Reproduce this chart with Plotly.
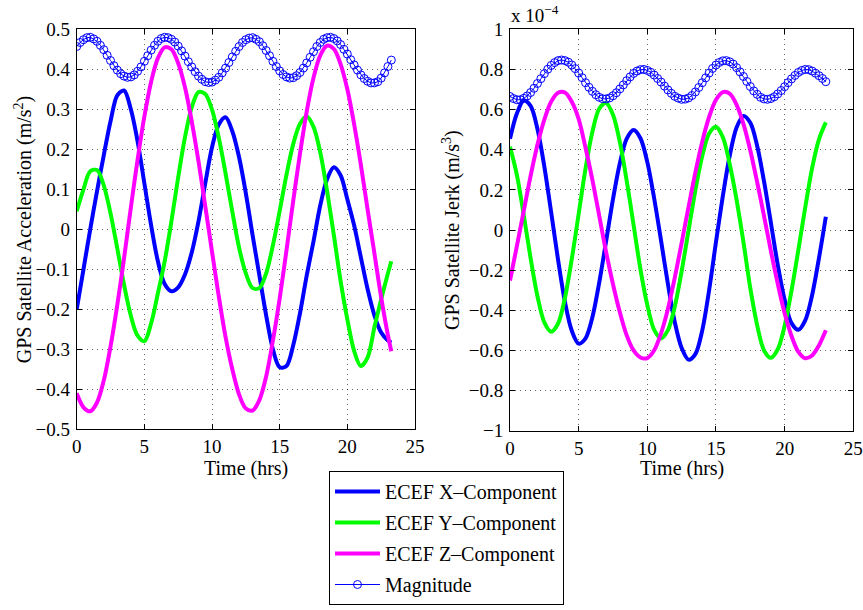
import plotly.graph_objects as go

# ---------------- data ----------------
# Left panel: acceleration components (m/s^2), sampled every 0.5 h
time_acc = [0, 0.5, 1, 1.5, 2, 2.5, 3, 3.5, 4, 4.5, 5, 5.5, 6, 6.5, 7, 7.5, 8, 8.5, 9, 9.5,
            10, 10.5, 11, 11.5, 12, 12.5, 13, 13.5, 14, 14.5, 15, 15.5, 16, 16.5, 17, 17.5,
            18, 18.5, 19, 19.5, 20, 20.5, 21, 21.5, 22, 22.5, 23, 23.25]
acc_x = [-0.20, -0.10, 0.00, 0.095, 0.185, 0.27, 0.335, 0.347, 0.30, 0.22, 0.115, 0.01,
         -0.08, -0.137, -0.155, -0.145, -0.113, -0.058, 0.02, 0.115, 0.205, 0.262, 0.28, 0.245,
         0.18, 0.09, -0.015, -0.115, -0.215, -0.30, -0.345, -0.342, -0.29, -0.21, -0.115, -0.03,
         0.06, 0.125, 0.155, 0.135, 0.075, 0.01, -0.07, -0.15, -0.215, -0.258, -0.278, -0.283]
acc_y = [0.045, 0.10, 0.145, 0.148, 0.11, 0.04, -0.048, -0.139, -0.216, -0.266, -0.28, -0.235,
         -0.16, -0.08, 0.02, 0.13, 0.23, 0.305, 0.343, 0.338, 0.299, 0.229, 0.14, 0.044,
         -0.046, -0.11, -0.147, -0.147, -0.11, -0.04, 0.046, 0.136, 0.213, 0.264, 0.282, 0.256,
         0.192, 0.096, -0.014, -0.129, -0.225, -0.304, -0.342, -0.32, -0.245, -0.175, -0.11, -0.08]
acc_z = [-0.41, -0.445, -0.455, -0.433, -0.378, -0.293, -0.189, -0.072, 0.054, 0.174, 0.282, 0.369,
         0.428, 0.455, 0.450, 0.415, 0.355, 0.27, 0.17, 0.058, -0.056, -0.168, -0.269, -0.35,
         -0.413, -0.448, -0.453, -0.427, -0.368, -0.278, -0.173, -0.053, 0.071, 0.189, 0.295, 0.379,
         0.435, 0.459, 0.451, 0.413, 0.35, 0.263, 0.161, 0.049, -0.06, -0.17, -0.265, -0.305]

# Left panel: acceleration magnitude, sampled every 0.25 h
time_acc_mag = [0, 0.25, 0.5, 0.75, 1, 1.25, 1.5, 1.75, 2, 2.25, 2.5, 2.75, 3, 3.25, 3.5, 3.75,
                4, 4.25, 4.5, 4.75, 5, 5.25, 5.5, 5.75, 6, 6.25, 6.5, 6.75, 7, 7.25, 7.5, 7.75,
                8, 8.25, 8.5, 8.75, 9, 9.25, 9.5, 9.75, 10, 10.25, 10.5, 10.75, 11, 11.25, 11.5, 11.75,
                12, 12.25, 12.5, 12.75, 13, 13.25, 13.5, 13.75, 14, 14.25, 14.5, 14.75, 15, 15.25, 15.5, 15.75,
                16, 16.25, 16.5, 16.75, 17, 17.25, 17.5, 17.75, 18, 18.25, 18.5, 18.75, 19, 19.25, 19.5, 19.75,
                20, 20.25, 20.5, 20.75, 21, 21.25, 21.5, 21.75, 22, 22.25, 22.5, 22.75, 23, 23.25]
acc_mag = [0.457, 0.467, 0.474, 0.479, 0.480, 0.476, 0.470, 0.460, 0.449, 0.435, 0.422, 0.409, 0.398, 0.389, 0.383, 0.380,
           0.381, 0.386, 0.395, 0.406, 0.420, 0.434, 0.448, 0.460, 0.470, 0.477, 0.480, 0.479, 0.475, 0.468, 0.458, 0.446,
           0.433, 0.419, 0.406, 0.394, 0.383, 0.375, 0.369, 0.367, 0.368, 0.373, 0.380, 0.391, 0.403, 0.417, 0.431, 0.445,
           0.457, 0.467, 0.474, 0.478, 0.479, 0.475, 0.469, 0.459, 0.447, 0.434, 0.420, 0.407, 0.396, 0.387, 0.381, 0.378,
           0.379, 0.384, 0.392, 0.403, 0.416, 0.430, 0.444, 0.457, 0.467, 0.475, 0.479, 0.480, 0.477, 0.471, 0.462, 0.450,
           0.438, 0.424, 0.411, 0.398, 0.386, 0.377, 0.370, 0.366, 0.366, 0.369, 0.378, 0.391, 0.407, 0.423]

# Right panel: jerk components (x 1e-4 m/s^3), sampled every 0.5 h
time_jerk = [0, 0.5, 1, 1.5, 2, 2.5, 3, 3.5, 4, 4.5, 5, 5.5, 6, 6.5, 7, 7.5, 8, 8.5, 9, 9.5,
             10, 10.5, 11, 11.5, 12, 12.5, 13, 13.5, 14, 14.5, 15, 15.5, 16, 16.5, 17, 17.5,
             18, 18.5, 19, 19.5, 20, 20.5, 21, 21.5, 22, 22.5, 23]
jerk_x = [0.455, 0.58, 0.645, 0.618, 0.503, 0.316, 0.087, -0.148, -0.358, -0.502, -0.566, -0.540,
          -0.435, -0.261, -0.056, 0.154, 0.333, 0.455, 0.498, 0.457, 0.338, 0.157, -0.053, -0.269,
          -0.459, -0.588, -0.646, -0.618, -0.50, -0.30, -0.06, 0.17, 0.37, 0.511, 0.568, 0.534,
          0.419, 0.242, 0.035, -0.174, -0.348, -0.464, -0.497, -0.45, -0.325, -0.14, 0.066]
jerk_y = [0.415, 0.275, 0.075, -0.14, -0.33, -0.46, -0.507, -0.466, -0.338, -0.144, 0.08, 0.306,
          0.489, 0.605, 0.633, 0.574, 0.438, 0.245, 0.025, -0.196, -0.374, -0.498, -0.54, -0.499,
          -0.382, -0.205, -0.003, 0.199, 0.369, 0.481, 0.515, 0.462, 0.328, 0.15, -0.06, -0.29,
          -0.475, -0.60, -0.637, -0.594, -0.477, -0.302, -0.099, 0.112, 0.308, 0.452, 0.536]
jerk_z = [-0.252, -0.08, 0.095, 0.27, 0.425, 0.55, 0.64, 0.684, 0.685, 0.639, 0.553, 0.41,
          0.25, 0.07, -0.11, -0.27, -0.41, -0.525, -0.60, -0.635, -0.638, -0.599, -0.515, -0.393,
          -0.237, -0.064, 0.114, 0.287, 0.44, 0.563, 0.649, 0.687, 0.679, 0.624, 0.529, 0.396,
          0.238, 0.069, -0.105, -0.268, -0.415, -0.528, -0.607, -0.639, -0.625, -0.575, -0.50]

# Right panel: jerk magnitude, sampled every 0.25 h
time_jerk_mag = [0, 0.25, 0.5, 0.75, 1, 1.25, 1.5, 1.75, 2, 2.25, 2.5, 2.75, 3, 3.25, 3.5, 3.75,
                 4, 4.25, 4.5, 4.75, 5, 5.25, 5.5, 5.75, 6, 6.25, 6.5, 6.75, 7, 7.25, 7.5, 7.75,
                 8, 8.25, 8.5, 8.75, 9, 9.25, 9.5, 9.75, 10, 10.25, 10.5, 10.75, 11, 11.25, 11.5, 11.75,
                 12, 12.25, 12.5, 12.75, 13, 13.25, 13.5, 13.75, 14, 14.25, 14.5, 14.75, 15, 15.25, 15.5, 15.75,
                 16, 16.25, 16.5, 16.75, 17, 17.25, 17.5, 17.75, 18, 18.25, 18.5, 18.75, 19, 19.25, 19.5, 19.75,
                 20, 20.25, 20.5, 20.75, 21, 21.25, 21.5, 21.75, 22, 22.25, 22.5, 22.75, 23]
jerk_mag = [0.665, 0.655, 0.649, 0.649, 0.656, 0.668, 0.685, 0.706, 0.730, 0.754, 0.779, 0.801, 0.820, 0.834, 0.844, 0.847,
            0.844, 0.836, 0.822, 0.804, 0.782, 0.759, 0.734, 0.711, 0.691, 0.674, 0.661, 0.654, 0.653, 0.658, 0.669, 0.684,
            0.703, 0.723, 0.744, 0.763, 0.780, 0.792, 0.799, 0.800, 0.795, 0.786, 0.772, 0.755, 0.737, 0.717, 0.698, 0.681,
            0.666, 0.657, 0.651, 0.652, 0.658, 0.670, 0.688, 0.710, 0.734, 0.758, 0.782, 0.805, 0.822, 0.835, 0.843, 0.844,
            0.838, 0.827, 0.809, 0.788, 0.765, 0.740, 0.715, 0.693, 0.676, 0.661, 0.653, 0.651, 0.655, 0.664, 0.678, 0.695,
            0.714, 0.734, 0.753, 0.770, 0.785, 0.795, 0.800, 0.799, 0.792, 0.781, 0.769, 0.755, 0.739]

series_names = ["ECEF X\u2013Component", "ECEF Y\u2013Component", "ECEF Z\u2013Component", "Magnitude"]
series_colors = ["#0000FF", "#00FF00", "#FF00FF", "#0000FF"]

x_ticks = [0, 5, 10, 15, 20, 25]

# ---------------- figure ----------------
FONT = "Liberation Serif, Times New Roman, serif"
fig = go.Figure()

left_comp = [acc_x, acc_y, acc_z]
right_comp = [jerk_x, jerk_y, jerk_z]

for i in range(3):
    fig.add_trace(go.Scatter(
        x=time_acc, y=left_comp[i], mode="lines", name=series_names[i],
        line=dict(color=series_colors[i], width=4, shape="spline", smoothing=0.9),
        xaxis="x", yaxis="y", showlegend=True, legendgroup=str(i)))
fig.add_trace(go.Scatter(
    x=time_acc_mag, y=acc_mag, mode="lines+markers", name=series_names[3],
    line=dict(color=series_colors[3], width=1),
    marker=dict(symbol="circle-open", size=8, color=series_colors[3], line=dict(width=1)),
    xaxis="x", yaxis="y", showlegend=True, legendgroup="3"))

for i in range(3):
    fig.add_trace(go.Scatter(
        x=time_jerk, y=right_comp[i], mode="lines", name=series_names[i],
        line=dict(color=series_colors[i], width=4, shape="spline", smoothing=0.9),
        xaxis="x2", yaxis="y2", showlegend=False))
fig.add_trace(go.Scatter(
    x=time_jerk_mag, y=jerk_mag, mode="lines+markers", name=series_names[3],
    line=dict(color=series_colors[3], width=1),
    marker=dict(symbol="circle-open", size=8, color=series_colors[3], line=dict(width=1)),
    xaxis="x2", yaxis="y2", showlegend=False))

W, H = 863, 610

def px_x(p):
    return p / W

def px_y(p):
    return 1 - p / H

axis_common = dict(
    showline=True, linecolor="black", linewidth=1, mirror="allticks",
    ticks="inside", ticklen=5, tickcolor="black", tickwidth=1,
    showgrid=True, gridcolor="rgba(0,0,0,0.6)", griddash="1px,4px", gridwidth=1,
    zeroline=False, automargin=False,
    tickfont=dict(family=FONT, size=19, color="black"),
)

fig.update_layout(
    width=W, height=H,
    margin=dict(l=0, r=0, t=0, b=0, autoexpand=False),
    paper_bgcolor="white", plot_bgcolor="white",
    font=dict(family=FONT, size=19, color="black"),
    xaxis=dict(domain=[px_x(76.7), px_x(415)], range=[0, 25], tickvals=x_ticks,
               anchor="y", **axis_common),
    yaxis=dict(domain=[px_y(429.3), px_y(29.3)], range=[-0.5, 0.5], dtick=0.1, tick0=0,
               anchor="x", ticklabelstandoff=2, **axis_common),
    xaxis2=dict(domain=[px_x(510), px_x(853.3)], range=[0, 25], tickvals=x_ticks,
                anchor="y2", **axis_common),
    yaxis2=dict(domain=[px_y(430.7), px_y(29.3)], range=[-1, 1], dtick=0.2, tick0=0,
                anchor="x2", ticklabelstandoff=2, **axis_common),
    legend=dict(
        x=px_x(329), y=px_y(471), xanchor="left", yanchor="top",
        bgcolor="white", bordercolor="black", borderwidth=1,
        font=dict(family=FONT, size=20, color="black"),
        tracegroupgap=2, itemwidth=45,
    ),
    showlegend=True,
)

annotations = [
    dict(text="GPS Satellite Acceleration (m/s<sup>2</sup>)", x=px_x(23), y=px_y(229.3),
         textangle=-90),
    dict(text="GPS Satellite Jerk (m/s<sup>3</sup>)", x=px_x(452), y=px_y(230),
         textangle=-90),
    dict(text="Time (hrs)", x=px_x(245.8), y=px_y(468)),
    dict(text="Time (hrs)", x=px_x(681.7), y=px_y(468)),
]
for a in annotations:
    a.update(xref="paper", yref="paper", showarrow=False, xanchor="center", yanchor="middle",
             font=dict(family=FONT, size=20, color="black"))
fig.add_annotation(text="x 10<sup>\u22124</sup>", x=px_x(509), y=px_y(14), xref="paper", yref="paper",
                   showarrow=False, xanchor="left", yanchor="middle",
                   font=dict(family=FONT, size=19, color="black"))
for a in annotations:
    fig.add_annotation(**a)

fig.write_html("out.html")
